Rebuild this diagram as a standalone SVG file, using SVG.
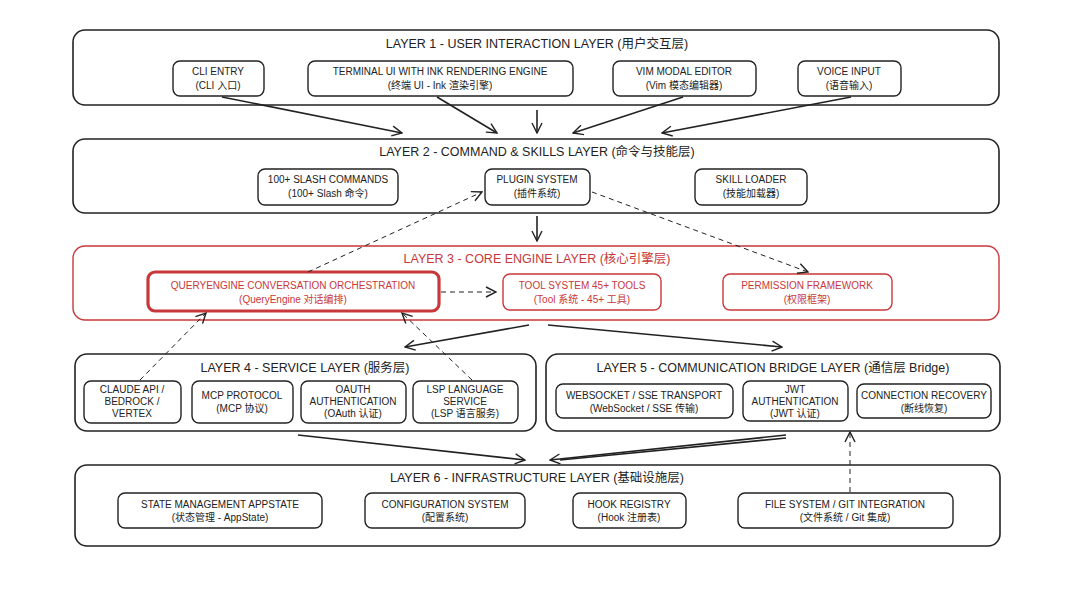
<svg xmlns="http://www.w3.org/2000/svg" width="1065" height="603" viewBox="0 0 1065 603">
<style>
.lay{fill:#fff;stroke:#222;stroke-width:1.6}
.layr{fill:#fff;stroke:#c8383a;stroke-width:1.4}
.nd{fill:#fff;stroke:#222;stroke-width:1.4}
.ndr{fill:#fff;stroke:#c8383a;stroke-width:1.4}
.thick{stroke-width:3.2}
text{font-family:"Liberation Sans","Noto Sans CJK SC",sans-serif;fill:#222;text-anchor:middle}
.t{font-size:12.5px}
.n{font-size:10px}
.r{fill:#c8383a}
.c{fill:none;stroke:#222;stroke-width:1.6}
.d{fill:none;stroke:#222;stroke-width:1;stroke-dasharray:5 4}
</style>
<defs>
<marker id="a" viewBox="0 0 12 12" refX="11" refY="6" markerWidth="12" markerHeight="12" markerUnits="userSpaceOnUse" orient="auto"><path d="M1 1L11 6L1 11" fill="none" stroke="#222" stroke-width="1.4"/></marker>
</defs>
<rect width="1065" height="603" fill="#fff"/>
<g id="layer1"><rect class="lay" x="73" y="30" width="926" height="75" rx="12"/><text class="t" x="537" y="48">LAYER 1 - USER INTERACTION LAYER (用户交互层)</text></g>
<g id="cli"><rect class="nd" x="173" y="61" width="91" height="35" rx="7"/><text class="n" x="218" y="75">CLI ENTRY</text><text class="n" x="218" y="89">(CLI 入口)</text></g>
<g id="tui"><rect class="nd" x="308" y="61" width="265" height="35" rx="7"/><text class="n" x="440" y="75">TERMINAL UI WITH INK RENDERING ENGINE</text><text class="n" x="440" y="89">(终端 UI - Ink 渲染引擎)</text></g>
<g id="vim"><rect class="nd" x="613" y="61" width="143" height="35" rx="7"/><text class="n" x="684" y="75">VIM MODAL EDITOR</text><text class="n" x="684" y="89">(Vim 模态编辑器)</text></g>
<g id="voice"><rect class="nd" x="798" y="61" width="103" height="35" rx="7"/><text class="n" x="849" y="75">VOICE INPUT</text><text class="n" x="849" y="89">(语音输入)</text></g>

<g id="layer2"><rect class="lay" x="73" y="139" width="926" height="74" rx="12"/><text class="t" x="537" y="156">LAYER 2 - COMMAND &amp; SKILLS LAYER (命令与技能层)</text></g>
<g id="slash"><rect class="nd" x="258" y="169" width="140" height="36" rx="7"/><text class="n" x="328" y="183">100+ SLASH COMMANDS</text><text class="n" x="328" y="197">(100+ Slash 命令)</text></g>
<g id="plugin"><rect class="nd" x="485" y="169" width="105" height="36" rx="7"/><text class="n" x="537" y="183">PLUGIN SYSTEM</text><text class="n" x="537" y="197">(插件系统)</text></g>
<g id="skill"><rect class="nd" x="695" y="169" width="112" height="36" rx="7"/><text class="n" x="751" y="183">SKILL LOADER</text><text class="n" x="751" y="197">(技能加载器)</text></g>

<g id="layer3"><rect class="layr" x="73" y="246" width="926" height="74" rx="12"/><text class="t r" x="537" y="263">LAYER 3 - CORE ENGINE LAYER (核心引擎层)</text></g>
<g id="qe"><rect class="ndr thick" x="148" y="272" width="291" height="39" rx="7"/><text class="n r" x="293" y="289">QUERYENGINE CONVERSATION ORCHESTRATION</text><text class="n r" x="293" y="303">(QueryEngine 对话编排)</text></g>
<g id="tool"><rect class="ndr" x="503" y="274" width="158" height="36" rx="7"/><text class="n r" x="582" y="289">TOOL SYSTEM 45+ TOOLS</text><text class="n r" x="582" y="303">(Tool 系统 - 45+ 工具)</text></g>
<g id="perm"><rect class="ndr" x="723" y="274" width="169" height="36" rx="7"/><text class="n r" x="807" y="289">PERMISSION FRAMEWORK</text><text class="n r" x="807" y="303">(权限框架)</text></g>

<g id="layer4"><rect class="lay" x="75" y="354" width="461" height="77" rx="12"/><text class="t" x="305" y="372">LAYER 4 - SERVICE LAYER (服务层)</text></g>
<g id="claude"><rect class="nd" x="84" y="381" width="97" height="42" rx="7"/><text class="n" x="132" y="393">CLAUDE API /</text><text class="n" x="132" y="405">BEDROCK /</text><text class="n" x="132" y="417">VERTEX</text></g>
<g id="mcp"><rect class="nd" x="192" y="381" width="101" height="42" rx="7"/><text class="n" x="242" y="399">MCP PROTOCOL</text><text class="n" x="242" y="412">(MCP 协议)</text></g>
<g id="oauth"><rect class="nd" x="301" y="381" width="105" height="42" rx="7"/><text class="n" x="353" y="393">OAUTH</text><text class="n" x="353" y="405">AUTHENTICATION</text><text class="n" x="353" y="417">(OAuth 认证)</text></g>
<g id="lsp"><rect class="nd" x="413" y="381" width="105" height="42" rx="7"/><text class="n" x="465" y="393">LSP LANGUAGE</text><text class="n" x="465" y="405">SERVICE</text><text class="n" x="465" y="417">(LSP 语言服务)</text></g>

<g id="layer5"><rect class="lay" x="546" y="354" width="454" height="77" rx="12"/><text class="t" x="773" y="372">LAYER 5 - COMMUNICATION BRIDGE LAYER (通信层 Bridge)</text></g>
<g id="ws"><rect class="nd" x="556" y="384" width="177" height="34" rx="7"/><text class="n" x="644" y="399">WEBSOCKET / SSE TRANSPORT</text><text class="n" x="644" y="412">(WebSocket / SSE 传输)</text></g>
<g id="jwt"><rect class="nd" x="743" y="381" width="105" height="40" rx="7"/><text class="n" x="795" y="393">JWT</text><text class="n" x="795" y="405">AUTHENTICATION</text><text class="n" x="795" y="417">(JWT 认证)</text></g>
<g id="recovery"><rect class="nd" x="857" y="384" width="134" height="34" rx="7"/><text class="n" x="924" y="399">CONNECTION RECOVERY</text><text class="n" x="924" y="412">(断线恢复)</text></g>

<g id="layer6"><rect class="lay" x="75" y="465" width="925" height="81" rx="12"/><text class="t" x="537" y="482">LAYER 6 - INFRASTRUCTURE LAYER (基础设施层)</text></g>
<g id="state"><rect class="nd" x="118" y="493" width="204" height="35" rx="7"/><text class="n" x="220" y="508">STATE MANAGEMENT APPSTATE</text><text class="n" x="220" y="521">(状态管理 - AppState)</text></g>
<g id="config"><rect class="nd" x="365" y="493" width="160" height="35" rx="7"/><text class="n" x="445" y="508">CONFIGURATION SYSTEM</text><text class="n" x="445" y="521">(配置系统)</text></g>
<g id="hook"><rect class="nd" x="573" y="493" width="113" height="35" rx="7"/><text class="n" x="629" y="508">HOOK REGISTRY</text><text class="n" x="629" y="521">(Hook 注册表)</text></g>
<g id="fs"><rect class="nd" x="738" y="493" width="215" height="35" rx="7"/><text class="n" x="845" y="508">FILE SYSTEM / GIT INTEGRATION</text><text class="n" x="845" y="521">(文件系统 / Git 集成)</text></g>

<g id="connectors">
<path class="c" d="M222 97L402 133" marker-end="url(#a)"/>
<path class="c" d="M437 97L497 133" marker-end="url(#a)"/>
<path class="c" d="M537 110L537 133" marker-end="url(#a)"/>
<path class="c" d="M683 97L573 133" marker-end="url(#a)"/>
<path class="c" d="M851 97L662 133" marker-end="url(#a)"/>
<path class="c" d="M537 216L537 241" marker-end="url(#a)"/>
<path class="d" d="M308 272L482 192" marker-end="url(#a)"/>
<path class="d" d="M592 192L808 272" marker-end="url(#a)"/>
<path class="d" d="M441 292L496 292" marker-end="url(#a)"/>
<path class="c" d="M529 325L405 347" marker-end="url(#a)"/>
<path class="c" d="M548 325L782 347" marker-end="url(#a)"/>
<path class="d" d="M140 380L206 313" marker-end="url(#a)"/>
<path class="d" d="M472 380L402 313" marker-end="url(#a)"/>
<path class="c" d="M298 435L525 460" marker-end="url(#a)"/>
<path class="c" d="M786 435L550 460" marker-end="url(#a)"/>
<path class="c" d="M786 438L560 460"/>
<path class="d" d="M850 492L850 432" marker-end="url(#a)"/>
</g>
</svg>
